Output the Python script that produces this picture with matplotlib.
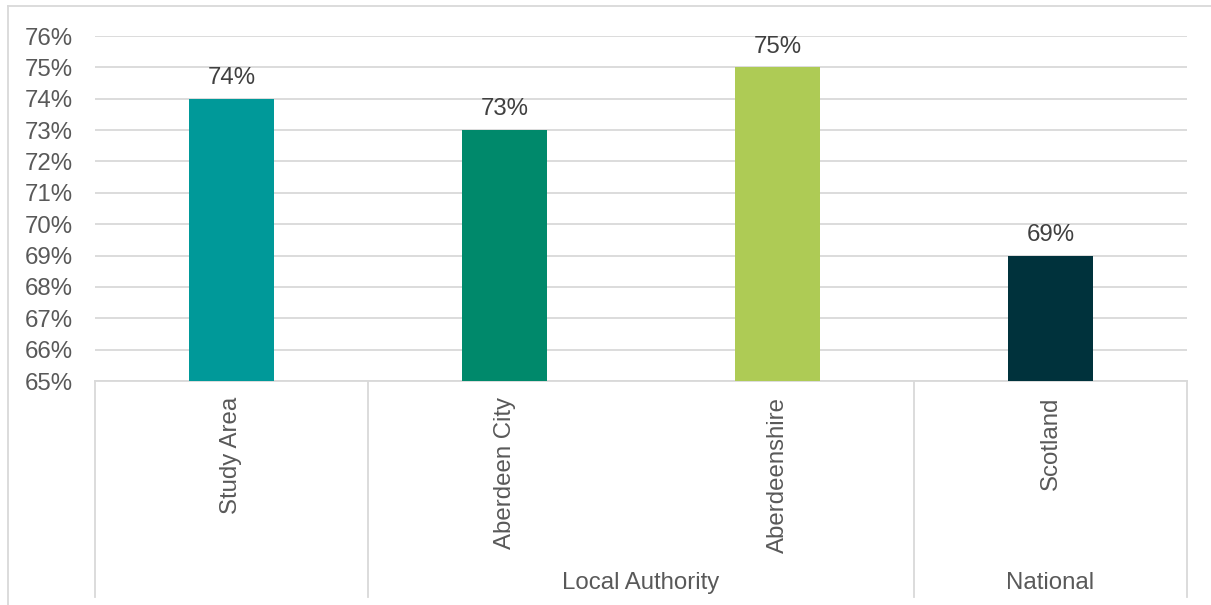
import matplotlib
matplotlib.use("Agg")
import matplotlib.pyplot as plt
from matplotlib.lines import Line2D
from matplotlib.transforms import blended_transform_factory

plt.rcParams["font.family"] = ["Liberation Sans", "DejaVu Sans"]

categories = ["Study Area", "Aberdeen City", "Aberdeenshire", "Scotland"]
values = [74, 73, 75, 69]
groups = ["", "Local Authority", "Local Authority", "National"]
bar_colors = ["#009999", "#00896B", "#AECB55", "#00323C"]
y_ticks = list(range(65, 77))

W, H = 1211, 605
text_color = "#595959"
grid_color = "#D9D9D9"
fs = 17.3

fig = plt.figure(figsize=(W / 100, H / 100), dpi=100)
ax = fig.add_axes([95 / W, 1 - 381 / H, 1092 / W, 345 / H])

x = list(range(len(categories)))
ax.bar(x, values, width=0.315, color=bar_colors, zorder=3)
ax.set_xlim(-0.5, len(categories) - 0.5)
ax.set_ylim(65, 76)
ax.set_yticks(y_ticks)
ax.set_yticklabels([f"{t}%" for t in y_ticks])
ax.yaxis.grid(True, color=grid_color, linewidth=1.3, zorder=0)
ax.set_axisbelow(True)
for s in ["top", "right", "left"]:
    ax.spines[s].set_visible(False)
ax.spines["bottom"].set_color(grid_color)
ax.spines["bottom"].set_linewidth(1.3)
ax.tick_params(axis="y", length=0, pad=16, labelsize=fs, labelcolor=text_color)
ax.set_xticks([])

# value labels
for xi, v in zip(x, values):
    ax.annotate(f"{v}%", (xi, v), xytext=(0, 7), textcoords="offset points",
                ha="center", va="bottom", fontsize=fs, color="#404040")

# multi-level category axis
trans = blended_transform_factory(ax.transData, ax.transAxes)
bottom_frac = (381 - 597) / 345
for xi, name in zip(x, categories):
    ax.text(xi, -0.045, name, transform=trans, rotation=90, ha="center",
            va="top", fontsize=fs, color=text_color)

# group spans
spans = []
for i, g in enumerate(groups):
    if spans and spans[-1][0] == g:
        spans[-1][2] = i
    else:
        spans.append([g, i, i])
edges = sorted({s[1] - 0.5 for s in spans} | {s[2] + 0.5 for s in spans})
for e in edges:
    ax.add_line(Line2D([e, e], [0, bottom_frac], transform=trans,
                       color=grid_color, linewidth=1.3, clip_on=False))
for g, a, b in spans:
    if g:
        ax.text((a + b) / 2, (381 - 583) / 345, g, transform=trans,
                ha="center", va="center", fontsize=fs, color=text_color)

# chart frame
fig.add_artist(Line2D([8 / W, 8 / W], [0, 1 - 6 / H], transform=fig.transFigure,
                      color=grid_color, linewidth=1.3))
fig.add_artist(Line2D([8 / W, 1], [1 - 6 / H, 1 - 6 / H], transform=fig.transFigure,
                      color=grid_color, linewidth=1.3))

fig.savefig("out.png", dpi=100)
